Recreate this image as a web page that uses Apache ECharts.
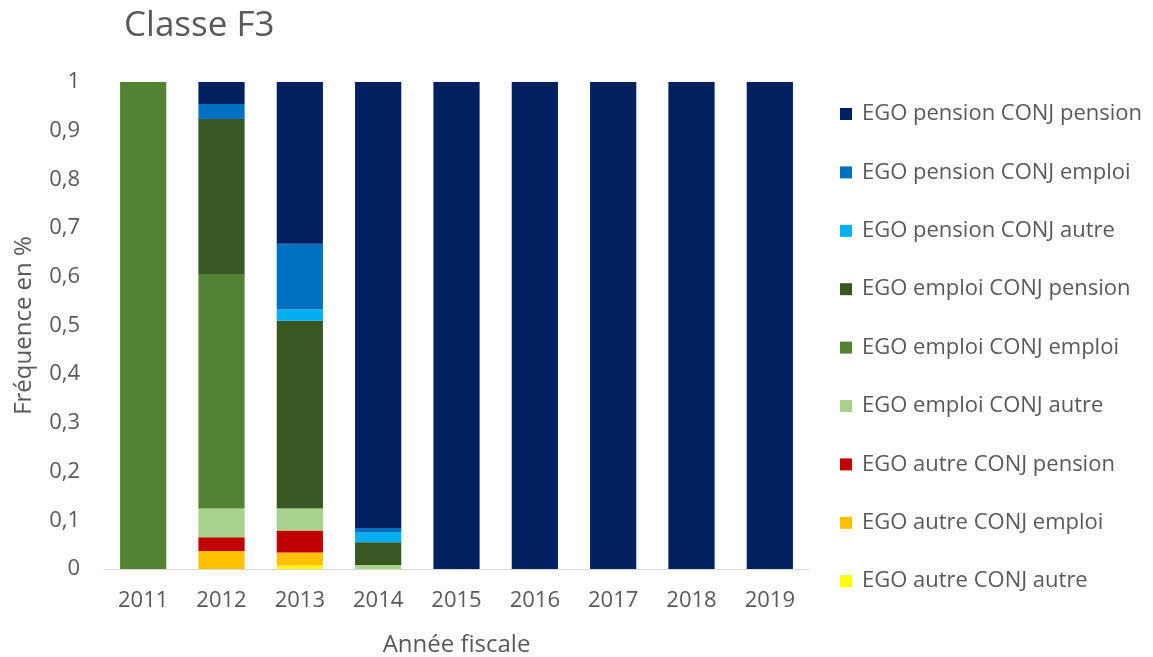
<!DOCTYPE html>
<html>
<head>
<meta charset="utf-8">
<script src="https://cdn.jsdelivr.net/npm/echarts@6/dist/echarts.min.js"></script>
<style>
  html, body { margin: 0; padding: 0; background: #ffffff; }
  #chart { width: 1153px; height: 657px; }
</style>
</head>
<body>
<div id="chart"></div>
<script>
// Fiscal years on the category axis
const years = ['2011', '2012', '2013', '2014', '2015', '2016', '2017', '2018', '2019'];
const yTicks = [0, 0.1, 0.2, 0.3, 0.4, 0.5, 0.6, 0.7, 0.8, 0.9, 1];

// Shares per situation (EGO / CONJ), stacked bottom to top
const autreAutre     = [0, 0,     0.007, 0,     0, 0, 0, 0, 0];
const autreEmploi    = [0, 0.037, 0.027, 0,     0, 0, 0, 0, 0];
const autrePension   = [0, 0.028, 0.045, 0,     0, 0, 0, 0, 0];
const emploiAutre    = [0, 0.060, 0.046, 0.008, 0, 0, 0, 0, 0];
const emploiEmploi   = [1, 0.479, 0,     0,     0, 0, 0, 0, 0];
const emploiPension  = [0, 0.320, 0.385, 0.047, 0, 0, 0, 0, 0];
const pensionAutre   = [0, 0,     0.023, 0.020, 0, 0, 0, 0, 0];
const pensionEmploi  = [0, 0.031, 0.135, 0.009, 0, 0, 0, 0, 0];
const pensionPension = [0, 0.045, 0.332, 0.916, 1, 1, 1, 1, 1];

const seriesDefs = [
  { name: 'EGO autre CONJ autre',     data: autreAutre,     color: '#FFFF00' },
  { name: 'EGO autre CONJ emploi',    data: autreEmploi,    color: '#FFC000' },
  { name: 'EGO autre CONJ pension',   data: autrePension,   color: '#C00000' },
  { name: 'EGO emploi CONJ autre',    data: emploiAutre,    color: '#A9D18E' },
  { name: 'EGO emploi CONJ emploi',   data: emploiEmploi,   color: '#548235' },
  { name: 'EGO emploi CONJ pension',  data: emploiPension,  color: '#385723' },
  { name: 'EGO pension CONJ autre',   data: pensionAutre,   color: '#00B0F0' },
  { name: 'EGO pension CONJ emploi',  data: pensionEmploi,  color: '#0070C0' },
  { name: 'EGO pension CONJ pension', data: pensionPension, color: '#002060' }
];

const font = '"Open Sans", "Noto Sans", sans-serif';
const textColor = '#595959';

const chart = echarts.init(document.getElementById('chart'), null, { renderer: 'canvas' });

chart.setOption({
  animation: false,
  backgroundColor: '#ffffff',
  title: {
    text: 'Classe F3',
    left: 119,
    top: 4,
    textStyle: { fontFamily: font, fontSize: 35, fontWeight: 'normal', color: textColor }
  },
  legend: {
    orient: 'vertical',
    left: 835,
    top: 98,
    itemWidth: 12,
    itemHeight: 12,
    itemGap: 36.4,
    icon: 'rect',
    data: seriesDefs.map(s => s.name).reverse(),
    textStyle: { fontFamily: font, fontSize: 22, lineHeight: 22, color: textColor, padding: [0, 0, 0, 5] }
  },
  grid: { left: 104, right: 344, top: 82, height: 487, outerBoundsMode: 'none', containLabel: false },
  xAxis: {
    type: 'category',
    data: years,
    name: 'Année fiscale',
    nameLocation: 'middle',
    nameGap: 64,
    nameTextStyle: { fontFamily: font, fontSize: 24, color: textColor },
    axisLine: { lineStyle: { color: '#d9d9d9', width: 1 } },
    axisTick: { show: false },
    axisLabel: { fontFamily: font, fontSize: 22, color: textColor, margin: 21 }
  },
  yAxis: {
    type: 'value',
    min: yTicks[0],
    max: yTicks[yTicks.length - 1],
    interval: 0.1,
    name: 'Fréquence en %',
    nameLocation: 'middle',
    nameGap: 68,
    nameTextStyle: { fontFamily: font, fontSize: 24, color: textColor },
    axisLine: { show: false },
    axisTick: { show: false },
    splitLine: { show: false },
    axisLabel: {
      fontFamily: font, fontSize: 22, color: textColor, margin: 24,
      formatter: v => String(Math.round(v * 10) / 10).replace('.', ',')
    }
  },
  series: seriesDefs.map(s => ({
    name: s.name,
    type: 'bar',
    stack: 'total',
    barWidth: '59%',
    data: s.data,
    itemStyle: { color: s.color }
  }))
});
</script>
</body>
</html>
